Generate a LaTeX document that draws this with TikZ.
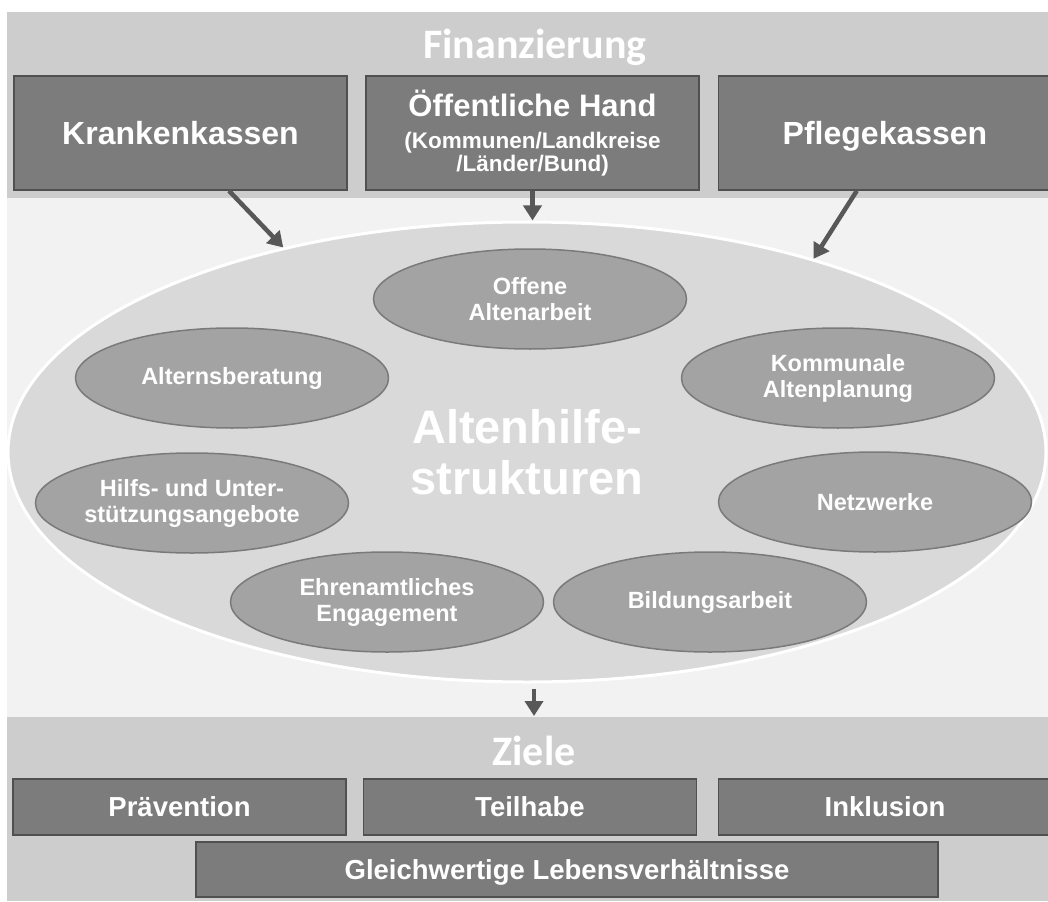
\documentclass[tikz,border=0pt]{standalone}
\usepackage{fontspec}
\setmainfont{Liberation Sans}
\newfontfamily\titlefont{Carlito}
\usepackage{tikz}
\usetikzlibrary{shapes.geometric, arrows.meta}
\definecolor{bandgray}{RGB}{205,205,205}
\definecolor{backgray}{RGB}{242,242,242}
\definecolor{boxgray}{RGB}{124,124,124}
\definecolor{boxline}{RGB}{80,80,80}
\definecolor{ovalgray}{RGB}{217,217,217}
\definecolor{subgray}{RGB}{163,163,163}
\definecolor{subline}{RGB}{122,122,122}
\definecolor{arrowgray}{RGB}{88,88,88}
\tikzstyle{fundbox} = [rectangle, fill=boxgray, draw=boxline, line width=1.5pt, minimum width=333pt, minimum height=114pt, inner sep=0pt, text depth=0pt, text=white, align=center, font=\bfseries\fontsize{32}{36}\selectfont]
\tikzstyle{goalbox} = [fundbox, minimum height=56pt, font=\bfseries\fontsize{27.5}{30}\selectfont]
\tikzstyle{sub} = [ellipse, fill=subgray, draw=subline, line width=1.5pt, minimum width=313pt, minimum height=100pt, inner sep=0pt, text=white, align=center, font=\bfseries\fontsize{23.5}{26}\selectfont]
\tikzstyle{bandtitle} = [anchor=base, text=white, font=\titlefont\bfseries\fontsize{42}{46}\selectfont]
\tikzstyle{arrow} = [-{Triangle[length=15pt, width=18pt]}, line width=4.5pt, draw=arrowgray]

\begin{document}
\begin{tikzpicture}[x=1pt, y=-1pt]
    \useasboundingbox (0,0) rectangle (1048,901);
    \fill[white] (0,0) rectangle (1048,901);
    \fill[bandgray] (7,12) rectangle (1048,198);
    \fill[backgray] (7,198) rectangle (1048,717);
    \fill[bandgray] (7,717) rectangle (1048,901);

    \node[bandtitle] (fin) at (535,59) {Finanzierung};
    \node[fundbox] (kk) at (180.5,133) {Krankenkassen};
    \node[fundbox, text depth=5pt, font=\bfseries\fontsize{22.5}{23}\selectfont] (oeff) at (532.5,133)
        {{\fontsize{31}{34}\selectfont Öffentliche Hand}\\[9pt](Kommunen/Landkreise\\/Länder/Bund)};
    \node[fundbox] (pf) at (885,133) {Pflegekassen};

    \node[ellipse, fill=ovalgray, draw=white, line width=3pt, minimum width=1038pt, minimum height=460pt,
        inner sep=0pt, text=white, align=center, font=\bfseries\fontsize{47}{51}\selectfont]
        (outer) at (527,452) {Altenhilfe-\\strukturen};

    \node[sub] (offen) at (530,299) {Offene\\Altenarbeit};
    \node[sub] (beratung) at (232,378) {Alternsberatung};
    \node[sub] (planung) at (838,378) {Kommunale\\Altenplanung};
    \node[sub] (hilfe) at (192,503) {Hilfs- und Unter-\\stützungsangebote};
    \node[sub] (netz) at (875,502) {Netzwerke};
    \node[sub] (ehrenamt) at (387,602) {Ehrenamtliches\\Engagement};
    \node[sub] (bildung) at (710,602) {Bildungsarbeit};

    \draw[arrow] (kk.-50) -- (outer.140);
    \draw[arrow] (oeff.south) -- (oeff.south |- outer.north);
    \draw[arrow] (pf.-116) -- (outer.34);

    \coordinate (zieltop) at (534,716);
    \draw[arrow, shorten <=5pt] (outer.south -| zieltop) -- (zieltop);

    \node[bandtitle] (ziele) at (534,765) {Ziele};
    \node[goalbox] (praev) at (179.5,807) {Prävention};
    \node[goalbox] (teil) at (530,807) {Teilhabe};
    \node[goalbox] (inkl) at (885,807) {Inklusion};
    \node[goalbox, minimum width=742pt, minimum height=55pt] (gleich) at (567,869.5) {Gleichwertige Lebensverhältnisse};
\end{tikzpicture}
\end{document}
